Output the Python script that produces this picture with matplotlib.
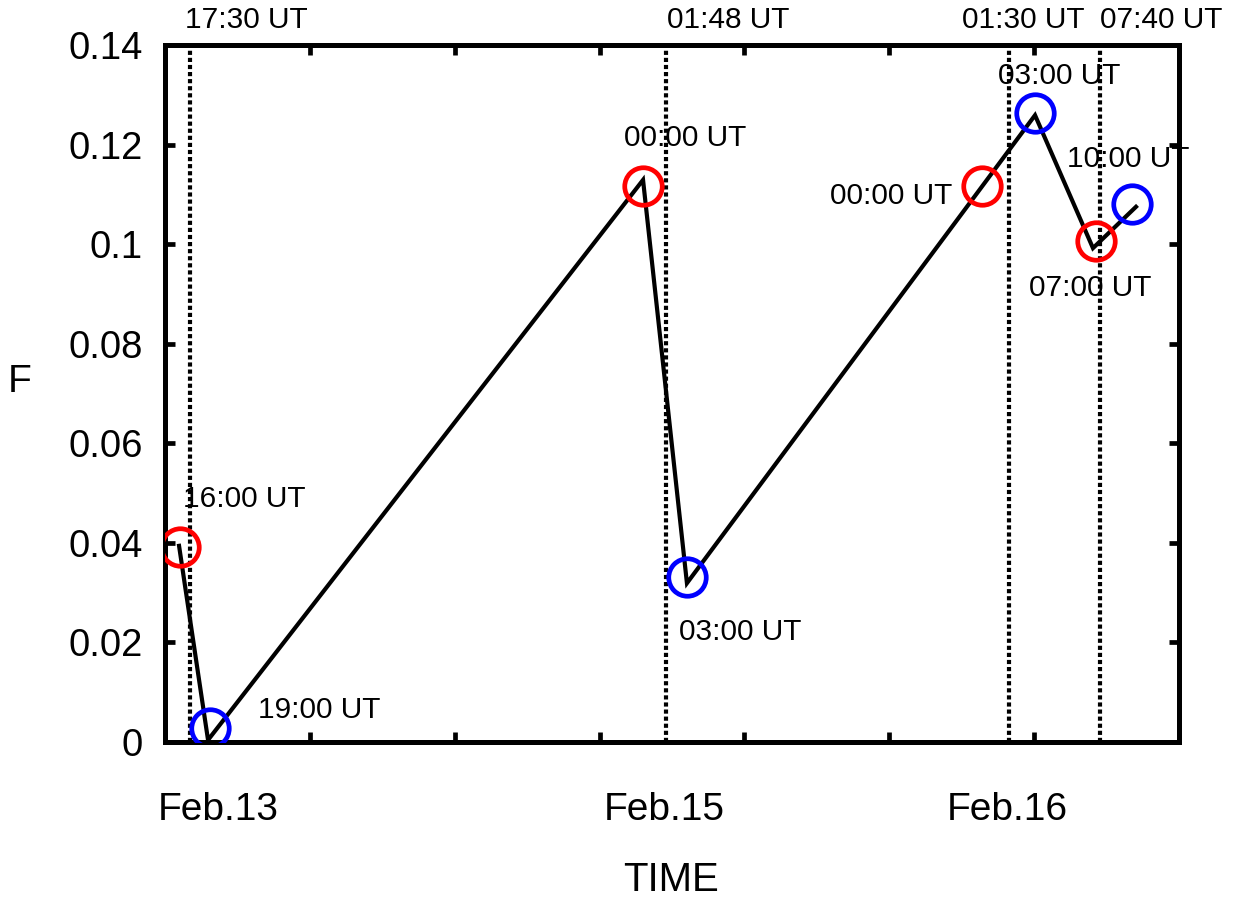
import matplotlib
matplotlib.use("Agg")
import matplotlib.pyplot as plt

plt.rcParams['font.family'] = ['Liberation Sans', 'DejaVu Sans']

# Polyline of F vs. (compressed) time axis units
line_x = [0.097, 0.297, 3.300, 3.603, 6.006, 6.406, 6.703]
line_y = [0.0394, 0.0004, 0.1129, 0.0319, 0.1259, 0.0992, 0.1075]

# Circle markers
red_x = [0.104, 3.300, 5.640, 6.427]
red_y = [0.0392, 0.1117, 0.1117, 0.1006]
blue_x = [0.311, 3.603, 6.006, 6.675]
blue_y = [0.0028, 0.0331, 0.1263, 0.1081]

# Vertical dotted lines and their top labels
vline_x = [0.173, 3.459, 5.826, 6.454]
top_label_x = [0.138, 3.465, 5.502, 6.454]
top_labels = ["17:30 UT", "01:48 UT", "01:30 UT", "07:40 UT"]

# Point annotations
ann_text = ["16:00 UT", "19:00 UT", "00:00 UT", "03:00 UT",
            "00:00 UT", "03:00 UT", "10:00 UT", "07:00 UT"]
ann_x = [0.124, 0.642, 3.169, 3.548, 4.591, 5.750, 6.227, 5.964]
ann_y = [0.0488, 0.0064, 0.1213, 0.0221, 0.1097, 0.1338, 0.1171, 0.0912]

# Date labels
date_labels = ["Feb.13", "Feb.15", "Feb.16"]
date_x = [0.366, 3.445, 5.812]

yticks = [0, 0.02, 0.04, 0.06, 0.08, 0.1, 0.12, 0.14]
ytick_labels = ["0", "0.02", "0.04", "0.06", "0.08", "0.1", "0.12", "0.14"]
xticks = [0, 1, 2, 3, 4, 5, 6, 7]

fig = plt.figure(figsize=(12.36, 9.02), dpi=100)
ax = fig.add_axes([0.1335, 0.1774, 0.8204, 0.7727])

for xv in vline_x:
    ax.plot([xv, xv], [0, 0.14], color='black', lw=3.0,
            linestyle=(0, (1, 0.7)), dash_capstyle='butt', zorder=1)

ax.plot(line_x, line_y, color='black', lw=3.0, zorder=2, solid_joinstyle='miter')
ax.plot(red_x, red_y, linestyle='none', marker='o', markersize=27,
        markerfacecolor='none', markeredgecolor='#ff0000', markeredgewidth=3.4, zorder=3)
ax.plot(blue_x, blue_y, linestyle='none', marker='o', markersize=27,
        markerfacecolor='none', markeredgecolor='#0000ff', markeredgewidth=3.4, zorder=3)

for t, x, y in zip(ann_text, ann_x, ann_y):
    ax.text(x, y, t, fontsize=21.5, ha='left', va='center', zorder=4)

for t, x in zip(top_labels, top_label_x):
    ax.text(x, 0.1450, t, fontsize=21.5, ha='left', va='center', clip_on=False)

ax.set_xlim(0, 7)
ax.set_ylim(0, 0.14)
ax.set_xticks(xticks)
ax.set_xticklabels([])
ax.set_yticks(yticks)
ax.set_yticklabels(ytick_labels, fontsize=27.5)
ax.tick_params(axis='both', direction='in', length=7, width=3.4,
               top=True, right=True)
ax.tick_params(axis='y', pad=16)
for s in ax.spines.values():
    s.set_linewidth(3.6)

trans = ax.get_xaxis_transform()
for t, x in zip(date_labels, date_x):
    ax.text(x, -0.098, t, fontsize=28, ha='center', va='center', transform=trans)

fig.text(671 / 1236, 1 - 880 / 902, "TIME", fontsize=29, ha='center', va='center')
fig.text(20 / 1236, 1 - 382 / 902, "F", fontsize=28, ha='center', va='center')

fig.savefig("out.png", dpi=100)
